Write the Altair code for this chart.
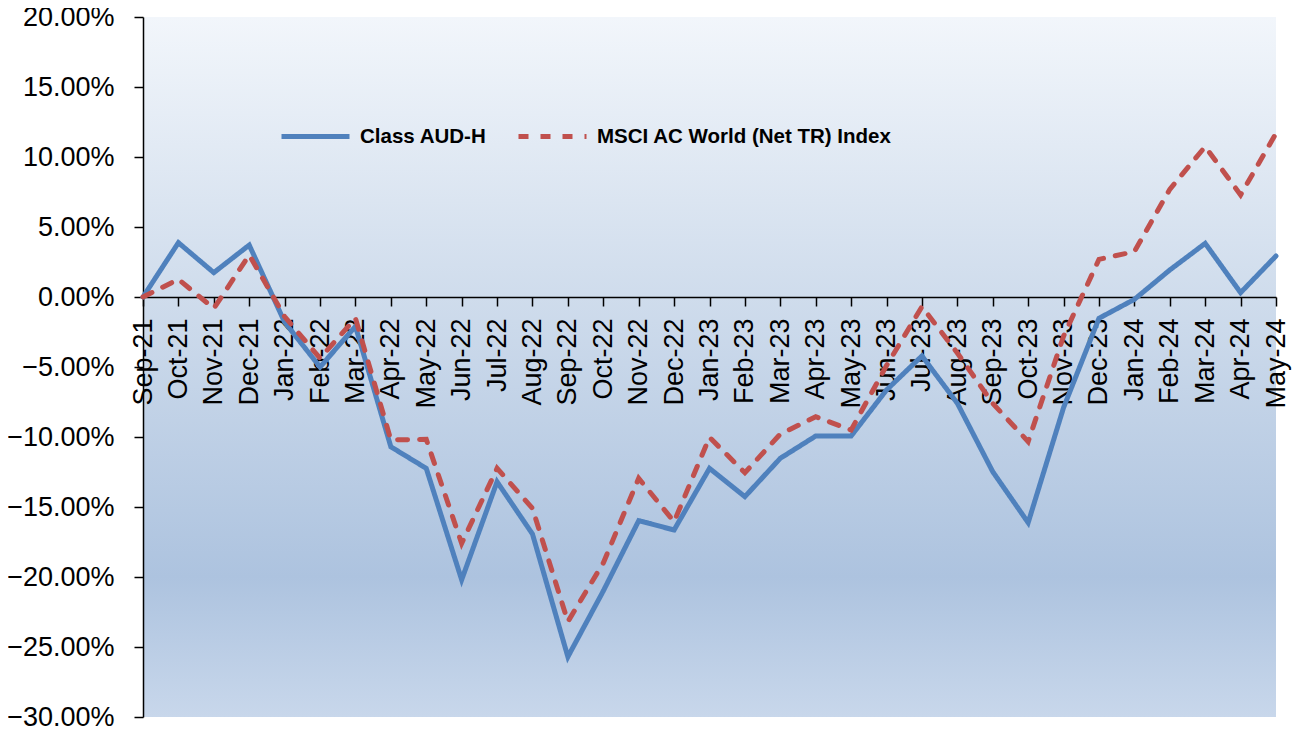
import altair as alt
import pandas as pd

months = ["Sep-21", "Oct-21", "Nov-21", "Dec-21", "Jan-22", "Feb-22", "Mar-22", "Apr-22",
          "May-22", "Jun-22", "Jul-22", "Aug-22", "Sep-22", "Oct-22", "Nov-22", "Dec-22",
          "Jan-23", "Feb-23", "Mar-23", "Apr-23", "May-23", "Jun-23", "Jul-23", "Aug-23",
          "Sep-23", "Oct-23", "Nov-23", "Dec-23", "Jan-24", "Feb-24", "Mar-24", "Apr-24",
          "May-24"]

class_aud_h = [0.0, 3.88, 1.74, 3.71, -1.8, -5.0, -2.1, -10.7, -12.24, -20.2, -13.2, -16.93,
               -25.7, -21.0, -15.98, -16.64, -12.24, -14.26, -11.52, -9.93, -9.93, -6.64,
               -4.21, -7.59, -12.48, -16.12, -7.9, -1.52, -0.17, 1.93, 3.83, 0.31, 2.93]

msci_acwi = [0.0, 1.26, -0.81, 3.0, -1.4, -4.38, -1.52, -10.21, -10.17, -17.6, -12.24, -15.1,
             -23.19, -19.0, -12.95, -16.05, -10.02, -12.55, -9.79, -8.55, -9.5, -4.9,
             -0.69, -4.0, -7.6, -10.33, -2.8, 2.69, 3.24, 7.69, 10.74, 7.29, 11.69]

series_names = ["Class AUD-H", "MSCI AC World (Net TR) Index"]
series_colors = ["#4F81BD", "#C0504D"]
y_ticks = [0.20, 0.15, 0.10, 0.05, 0.0, -0.05, -0.10, -0.15, -0.20, -0.25, -0.30]

rows = []
for name, vals in zip(series_names, [class_aud_h, msci_acwi]):
    for m, v in zip(months, vals):
        rows.append({"month": m, "value": v / 100.0, "series": name})
df = pd.DataFrame(rows)

W, H = 1133, 700

# plot-area background gradient (white at top to steel blue, lighter at the bottom)
gradient_expr = (
    "{gradient: 'linear', x1: 0, y1: 0, x2: 0, y2: 1, stops: ["
    "{offset: 0.0, color: '#f2f6fb'}, "
    "{offset: 0.40, color: '#cfdcec'}, "
    "{offset: 0.80, color: '#adc3df'}, "
    "{offset: 1.0, color: '#c8d7eb'}]}"
)

legend_opts = dict(title=None, orient="none", legendX=136, legendY=83,
                   direction="horizontal", symbolType="stroke", symbolSize=4624,
                   symbolStrokeWidth=5, labelFontSize=20.5, labelFontWeight="bold",
                   labelColor="black", labelLimit=500, labelOffset=8,
                   columnPadding=21, padding=0)

chart = alt.Chart(df).mark_line(strokeWidth=5, strokeCap="round", strokeJoin="miter").encode(
    x=alt.X("month:O", sort=months, scale=alt.Scale(type="point", padding=0),
            axis=alt.Axis(title=None, labelAngle=270, offset=-420, tickSize=9,
                          labelPadding=12, labelFontSize=27, labelColor="black",
                          domainColor="black", domainWidth=1.5, tickColor="black",
                          tickWidth=1.5, labelOverlap=False, grid=False)),
    y=alt.Y("value:Q", scale=alt.Scale(domain=[-0.30, 0.20], nice=False, zero=False),
            axis=alt.Axis(title=None, format=".2%", values=y_ticks, tickSize=9,
                          labelPadding=20, labelFontSize=27, labelColor="black",
                          domainColor="black", domainWidth=1.5, tickColor="black",
                          tickWidth=1.5, grid=False)),
    color=alt.Color("series:N", sort=series_names,
                    scale=alt.Scale(domain=series_names, range=series_colors),
                    legend=alt.Legend(**legend_opts)),
    strokeDash=alt.StrokeDash("series:N", sort=series_names,
                              scale=alt.Scale(domain=series_names, range=[[1, 0], [10, 12]]),
                              legend=alt.Legend(**legend_opts)),
    order=alt.Order("series:N"),
).properties(
    width=W, height=H,
    autosize=alt.AutoSizeParams(type="none"),
    padding={"left": 135, "top": 9, "right": 18, "bottom": 15},
).configure(
    font="Liberation Sans",
    background="white",
).configure_view(stroke=None, fill=alt.ExprRef(expr=gradient_expr))

chart.save("out.html", embed_options={"renderer": "svg", "actions": False})
